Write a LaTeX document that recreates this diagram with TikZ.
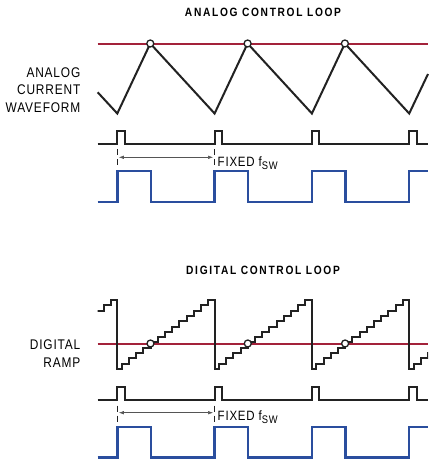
\documentclass[tikz,border=0pt]{standalone}
\usepackage{fontspec}
\setmainfont{Liberation Sans}
\newfontfamily\lblfont[FakeStretch=0.85,LetterSpace=6]{Liberation Sans}
\newfontfamily\ttlfont[FakeStretch=0.85,LetterSpace=14]{Liberation Sans}
\usetikzlibrary{arrows.meta}
\definecolor{redline}{HTML}{A3223A}
\definecolor{bluewave}{HTML}{2A4E9E}
\definecolor{blackwave}{HTML}{222222}
\definecolor{arrowgray}{HTML}{555555}
\begin{document}
\begin{tikzpicture}[x=1pt,y=-1pt,
  wave/.style={draw=blackwave,line width=2pt,line join=miter},
  refline/.style={draw=redline,line width=2pt},
  gate/.style={draw=bluewave,line width=2.4pt,line join=miter},
  ring/.style={circle,draw=blackwave,fill=white,line width=1.3pt,minimum size=7pt,inner sep=0pt},
  guide/.style={draw=blackwave,line width=0.8pt,dash pattern=on 6pt off 4pt},
  span/.style={draw=arrowgray,line width=0.6pt,{Latex[length=5pt,width=3.5pt]}-{Latex[length=5pt,width=3.5pt]}},
  ttl/.style={font=\ttlfont\bfseries\fontsize{12}{14}\selectfont,inner sep=0pt},
  lbl/.style={font=\lblfont\fontsize{14}{17.3}\selectfont,align=right,inner sep=0pt},
  fix/.style={font=\lblfont\fontsize{13.5}{14}\selectfont,inner sep=0pt}]
\useasboundingbox[fill=white] (0,0) rectangle (435,469);

% ---------------- ANALOG ----------------
\node[ttl,anchor=base] (t1) at (263,16) {ANALOG CONTROL LOOP};
\node[lbl,anchor=north east] (l1) at (80.5,67.5) {ANALOG\\CURRENT\\WAVEFORM};

\draw[refline] (97.7,43.5) -- (428,43.5);
\draw[wave] (97.7,92.3) \foreach \k in {0,1,2} { -- ({117.3+\k*97.3},113.5) -- ({150.3+\k*97.3},43.5) } -- (409.2,113.5) -- (428,74);
\foreach \k in {0,1,2} { \node[ring] (pa\k) at ({150.3+\k*97.3},43.5) {}; }

\draw[wave] (97.7,143.5) \foreach \k in {0,...,3} { -- ({117.3+\k*97.3},143.5) -- ++(0,-13) -- ++(7.5,0) -- ++(0,13) } -- (428,143.5);

\coordinate (da1) at (117.3,149);
\coordinate (da2) at (214.6,149);
\draw[guide] (da1) -- ++(0,17.5);
\draw[guide] (da2) -- ++(0,17.5);
\coordinate (aa1) at (117.3,157.3);
\coordinate (aa2) at (214.6,157.3);
\draw[span,shorten <=1.5pt,shorten >=1.5pt] (aa1) -- (aa2);
\node[fix,anchor=base west] (fa) at (217.5,166) {FIXED f\raisebox{-3pt}{\fontsize{11}{11}\selectfont SW}};

\draw[gate] (97.7,202) \foreach \k in {0,1,2} { -- ({117.3+\k*97.3},202) -- ++(0,-31) -- ++(33.4,0) -- ++(0,31) } -- (409.2,202) -- (409.2,171) -- (428,171);

% ---------------- DIGITAL ----------------
\node[ttl,anchor=base] (t2) at (263,274.3) {DIGITAL CONTROL LOOP};
\node[lbl,anchor=north east] (l2) at (80.5,340) {DIGITAL\\RAMP};

\draw[refline] (97.7,343.5) -- (428,343.5);
\begin{scope}
\clip (97.7,285) rectangle (428.2,380);
\draw[wave] (20,300) \foreach \k in {0,...,4} {
   -- ({20+\k*97.3},369) -- ({24.4+\k*97.3},369)
   \foreach \j in {1,...,12} { -- ({24.4+\k*97.3+(\j-1)*7.2},{369-\j*5.3077}) -- ({24.4+\k*97.3+\j*7.2},{369-\j*5.3077}) }
   -- ({24.4+\k*97.3+12*7.2},300) -- ({20+(\k+1)*97.3},300) };
\end{scope}
\foreach \k in {0,1,2} { \node[ring] (pd\k) at ({150.5+\k*97.3},343.5) {}; }

\draw[wave] (97.7,400) \foreach \k in {0,...,3} { -- ({117.3+\k*97.3},400) -- ++(0,-13.5) -- ++(7.5,0) -- ++(0,13.5) } -- (428,400);

\coordinate (dd1) at (117.3,405.5);
\coordinate (dd2) at (214.6,405.5);
\draw[guide] (dd1) -- ++(0,17.5);
\draw[guide] (dd2) -- ++(0,17.5);
\coordinate (ad1) at (117.3,412.7);
\coordinate (ad2) at (214.6,412.7);
\draw[span,shorten <=1.5pt,shorten >=1.5pt] (ad1) -- (ad2);
\node[fix,anchor=base west] (fd) at (217.5,420) {FIXED f\raisebox{-3pt}{\fontsize{11}{11}\selectfont SW}};

\draw[gate] (97.7,457.5) \foreach \k in {0,1,2} { -- ({117.3+\k*97.3},457.5) -- ++(0,-30.5) -- ++(33.4,0) -- ++(0,30.5) } -- (409.2,457.5) -- (409.2,427) -- (428,427);
\end{tikzpicture}
\end{document}
